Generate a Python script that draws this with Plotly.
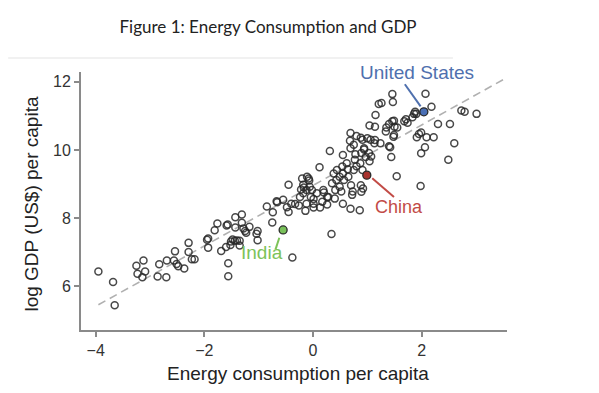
import plotly.graph_objects as go

# ---- data ----
energy = [
    -3.95, -3.68, -3.65, -3.25, -3.12, -3.23, -3.09, -3.14, -2.86, -2.83, -2.70, -2.69,
    -2.54, -2.56, -2.51, -2.48, -2.37, -2.29, -2.29, -2.23, -2.18,
    -1.93, -1.95, -1.93, -1.76, -1.81, -1.69, -1.60, -1.57, -1.51, -1.56, -1.56,
    -1.43, -1.31, -1.31, -1.43, -1.44, -1.35, -1.35, -1.25, -1.17, -1.04, -1.02,
    -1.59, -1.28, -1.23, -1.02, -1.48, -1.40, -1.52,
    -0.45, -0.18, -0.11, -0.07, -0.06, -0.22, -0.18, -0.24, -0.04,
    -0.26, -0.40, -0.48, -0.45, -0.55, -0.66, -0.74, -0.85, -0.75,
    -0.38, -0.67, -0.33, -0.17, -0.08, -0.20, -0.14, -0.12,
    0.12, 0.07, 0.19, 0.26, 0.01, 0.01, 0.01, -0.02, -0.12,
    0.31, 0.55, 0.62, 0.54, 0.64, 0.55, 0.65, 0.57, 0.49,
    0.44, 0.38, 0.43, 0.35, 0.49, 0.41, 0.52,
    0.70, 0.73, 0.72, 0.88, 0.92, 0.89,
    0.69, 0.86, 0.55, 0.40, 0.20, 0.28, 0.17, 0.26, 0.13, 0.34,
    0.78, 0.77, 0.87, 0.80, 0.91, 0.75,
    0.94, 0.89, 1.03, 1.07, 0.97, 1.04,
    0.69, 0.88, 0.91, 1.06, 1.13, 1.24, 0.75, 0.69,
    0.68, 0.80, 0.94, 1.00, 1.14,
    1.04, 1.14, 1.40, 1.50, 1.46, 1.34, 1.49, 1.40, 1.44, 1.54,
    1.15, 1.21, 1.26, 1.46, 1.47,
    1.35, 1.49, 1.55, 1.68, 1.71, 1.74, 1.83, 1.86, 1.90, 1.88,
    1.48, 1.42, 1.98,
    1.91, 1.95, 1.99, 2.09, 2.22, 1.99, 2.06, 2.49, 2.60, 2.52, 2.30,
    2.73, 2.79, 3.01, 2.18, 2.07,
]
log_gdp = [
    6.43, 6.12, 5.44, 6.60, 6.75, 6.36, 6.43, 6.26, 6.28, 6.64, 6.26, 6.75,
    7.02, 6.75, 6.65, 6.58, 6.52, 7.27, 7.00, 6.79, 6.79,
    7.40, 7.36, 7.13, 7.84, 7.64, 7.03, 7.15, 7.81, 7.31, 6.67, 6.29,
    8.02, 8.10, 7.86, 7.72, 7.33, 7.33, 7.19, 7.62, 7.74, 7.54, 7.35,
    7.78, 7.69, 7.57, 7.62, 7.37, 7.34, 7.21,
    8.98, 8.98, 9.21, 9.10, 8.92, 8.84, 8.73, 8.62, 8.62,
    8.37, 8.42, 8.32, 8.18, 8.54, 8.46, 8.17, 8.34, 7.87,
    6.84, 8.49, 8.41, 8.90, 9.16, 9.16, 8.21, 8.42,
    9.49, 8.73, 8.82, 8.62, 8.42, 8.56, 8.31, 8.82, 8.82,
    9.97, 9.85, 9.61, 9.51, 9.43, 9.31, 9.21, 9.12, 9.21,
    9.41, 9.31, 9.12, 9.02, 8.92, 8.82, 8.78,
    8.96, 8.78, 8.68, 8.96, 8.87, 8.77,
    8.27, 8.23, 8.42, 8.57, 8.75, 8.62, 8.48, 8.40, 8.31, 7.53,
    9.87, 9.71, 9.61, 9.52, 9.41, 9.41,
    10.01, 9.91, 9.91, 9.81, 9.79, 9.67,
    10.50, 10.36, 10.30, 10.30, 10.20, 10.20, 10.15, 10.05,
    10.27, 10.41, 10.05, 10.34, 10.29,
    10.72, 10.68, 10.76, 10.68, 10.84, 10.54, 10.44, 10.11, 9.79, 9.23,
    11.03, 11.35, 11.38, 11.64, 11.41,
    10.66, 10.86, 10.66, 10.84, 10.90, 10.80, 10.96, 11.06, 11.06, 11.12,
    10.39, 10.08, 8.94,
    10.37, 10.47, 10.51, 10.37, 10.37, 9.90, 10.08, 9.71, 10.20, 10.76, 10.76,
    11.16, 11.12, 11.06, 11.27, 11.65,
]

highlight_names = ["United States", "China", "India"]
highlight_x = [2.04, 0.99, -0.55]
highlight_y = [11.12, 9.26, 7.65]
highlight_fill = ["#4a6fb5", "#a8322e", "#79c15a"]
label_colors = ["#4f70ae", "#c24b46", "#7dc35a"]
label_sizes = [19, 18, 19]
label_x = [1.91, 1.59, -0.94]
label_y = [12.27, 8.32, 6.98]
connector_x0 = [1.69, 1.09, -0.62]
connector_y0 = [11.93, 9.17, 7.42]
connector_x1 = [1.98, 1.49, -0.69]
connector_y1 = [11.28, 8.62, 7.08]

trend_x = [-3.95, 3.55]
trend_y = [5.45, 12.11]

title_text = "Figure 1: Energy Consumption and GDP"
x_title = "Energy consumption per capita"
y_title = "log GDP (US$) per capita"
x_ticks = [-4, -2, 0, 2]
y_ticks = [6, 8, 10, 12]

FONT = "Liberation Sans, Arial, sans-serif"

# ---- figure ----
fig = go.Figure()

fig.add_trace(go.Scatter(
    x=trend_x, y=trend_y, mode="lines",
    line=dict(color="#b0b0b0", width=1.6, dash="8px,5px"),
    hoverinfo="skip", showlegend=False,
))

fig.add_trace(go.Scatter(
    x=energy, y=log_gdp, mode="markers",
    marker=dict(size=7, color="rgba(0,0,0,0)",
                line=dict(color="rgba(40,40,40,0.85)", width=1.5)),
    showlegend=False,
))

for i, name in enumerate(highlight_names):
    fig.add_shape(type="line", xref="x", yref="y",
                  x0=connector_x0[i], y0=connector_y0[i],
                  x1=connector_x1[i], y1=connector_y1[i],
                  line=dict(color=label_colors[i], width=2))
    fig.add_annotation(x=label_x[i], y=label_y[i], xref="x", yref="y",
                       xanchor="center", yanchor="middle",
                       text=name, showarrow=False,
                       font=dict(family=FONT, size=label_sizes[i], color=label_colors[i]))

fig.add_trace(go.Scatter(
    x=highlight_x, y=highlight_y, mode="markers",
    marker=dict(size=8, color=highlight_fill,
                line=dict(color="#2a2a2a", width=1.3)),
    text=highlight_names, showlegend=False,
))

# faint rule under the title
fig.add_shape(type="line", xref="paper", yref="paper",
              x0=-0.171, x1=0.873, y0=1.054, y1=1.054,
              line=dict(color="#ececec", width=1.5))

fig.add_annotation(xref="paper", yref="paper", x=0.509, y=-0.167,
                   xanchor="center", yanchor="middle",
                   text=x_title, showarrow=False,
                   font=dict(family=FONT, size=19, color="#222"))
fig.add_annotation(xref="paper", yref="paper", x=-0.115, y=0.49,
                   xanchor="center", yanchor="middle",
                   text=y_title, showarrow=False, textangle=-90,
                   font=dict(family=FONT, size=19, color="#222"))

axis_common = dict(
    showgrid=False, zeroline=False, showline=True, linecolor="#8a8a8a", linewidth=2,
    ticks="outside", ticklen=5, tickwidth=1.5, tickcolor="#8a8a8a",
    tickfont=dict(family=FONT, size=16, color="#333"),
)

# the page body adds an 8px offset, so the figure is 8px smaller and margins shifted
fig.update_layout(
    width=591, height=385,
    margin=dict(l=73, r=92, t=64, b=63),
    paper_bgcolor="white", plot_bgcolor="white",
    title=dict(text=title_text, x=0.44, xanchor="center", y=1 - 19 / 385, yanchor="middle",
               yref="container",
               font=dict(family="Lato, Open Sans, sans-serif", size=17, color="#222")),
    xaxis=dict(range=[-4.27, 3.57], tickvals=x_ticks,
               ticktext=["\u22124", "\u22122", "0", "2"], **axis_common),
    yaxis=dict(range=[4.71, 12.29], tickvals=y_ticks, **axis_common),
)

fig.write_html("out.html")
